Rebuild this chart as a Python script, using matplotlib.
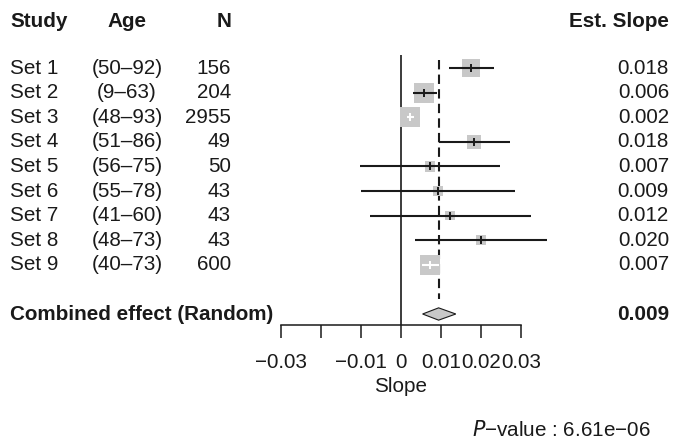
import numpy as np
import matplotlib
matplotlib.use("Agg")
import matplotlib.pyplot as plt

plt.rcParams['font.family'] = ['Liberation Sans', 'DejaVu Sans']

# study data
studies = ['Set 1', 'Set 2', 'Set 3', 'Set 4', 'Set 5', 'Set 6', 'Set 7', 'Set 8', 'Set 9']
ages = ['(50\u201392)', '(9\u201363)', '(48\u201393)', '(51\u201386)', '(56\u201375)',
        '(55\u201378)', '(41\u201360)', '(48\u201373)', '(40\u201373)']
n_obs = [156, 204, 2955, 49, 50, 43, 43, 43, 600]
est = [0.0176, 0.0058, 0.0023, 0.0183, 0.0073, 0.0093, 0.0123, 0.0200, 0.0073]
lower = [0.0120, 0.0029, 0.0014, 0.0096, -0.0103, -0.0100, -0.0078, 0.0034, 0.0052]
upper = [0.0233, 0.0089, 0.0033, 0.0273, 0.0248, 0.0286, 0.0324, 0.0366, 0.0096]

comb_label = 'Combined effect (Random)'
comb_est = 0.0094
comb_lower = 0.0054
comb_upper = 0.0137

xticks = [-0.03, -0.02, -0.01, 0, 0.01, 0.02, 0.03]
xticklabels = ['\u22120.03', '', '\u22120.01', '0', '0.01', '0.02', '0.03']
pvalue = '6.61e\u221206'

W, H = 673, 444
fig = plt.figure(figsize=(W / 100, H / 100), dpi=100)
ax = fig.add_axes([0, 0, 1, 1])

# map: x pixel = 401 + 4000*slope, y pixel = 43.4 + 24.6*row
ax.set_xlim(-401 / 4000, (W - 401) / 4000)
ax.set_ylim((H - 43.4) / 24.6, -43.4 / 24.6)
ax.patch.set_alpha(0)

txt = '#1a1a1a'
fs = 14.9
rows = np.arange(1, len(studies) + 1)
comb_row = len(studies) + 2
axis_row = comb_row + 0.45
head_row = -0.9

col_tr = ax.get_yaxis_transform()  # x in axes fraction, y in data


def colx(px):
    return px / W


# headers
ax.text(colx(10), head_row, 'Study', transform=col_tr, ha='left', va='center',
        fontsize=fs, fontweight='bold', color=txt)
ax.text(colx(127), head_row, 'Age', transform=col_tr, ha='center', va='center',
        fontsize=fs, fontweight='bold', color=txt)
ax.text(colx(231), head_row, 'N', transform=col_tr, ha='right', va='center',
        fontsize=fs, fontweight='bold', color=txt)
ax.text(colx(669), head_row, 'Est. Slope', transform=col_tr, ha='right', va='center',
        fontsize=fs, fontweight='bold', color=txt)

for r, s, a, n, e in zip(rows, studies, ages, n_obs, est):
    ax.text(colx(10), r, s, transform=col_tr, ha='left', va='center', fontsize=fs, color=txt)
    ax.text(colx(127), r, a, transform=col_tr, ha='center', va='center', fontsize=fs, color=txt)
    ax.text(colx(231), r, str(n), transform=col_tr, ha='right', va='center', fontsize=fs, color=txt)
    ax.text(colx(669), r, f'{e:.3f}', transform=col_tr, ha='right', va='center', fontsize=fs, color=txt)

ax.text(colx(10), comb_row, comb_label, transform=col_tr, ha='left', va='center',
        fontsize=fs, fontweight='bold', color=txt)
ax.text(colx(669), comb_row, f'{comb_est:.3f}', transform=col_tr, ha='right', va='center',
        fontsize=fs, fontweight='bold', color=txt)

# reference lines
ax.vlines(0, 0.47, axis_row, color=txt, lw=1.2)
ax.vlines(comb_est, 0.67, comb_row - 0.6, color=txt, lw=1.5, linestyles=(0, (4.5, 2.5)))

# boxes: area ~ precision, capped
est = np.array(est)
lower = np.array(lower)
upper = np.array(upper)
side_px = np.minimum(20, 1.92 * np.sqrt(1 / (upper - lower)))
ax.scatter(est, rows, marker='s', s=(side_px * 0.72) ** 2, color='#c8c8c8',
           linewidths=0, zorder=2)

inside = (upper - lower) * 4000 < side_px
for r, e, lo, hi, ins in zip(rows, est, lower, upper, inside):
    c = 'white' if ins else txt
    ax.plot([lo, hi], [r, r], color=c, lw=1.5, zorder=3, solid_capstyle='butt')
    ax.plot([e], [r], marker='|', ms=5.5, mew=1.4, color=c, zorder=4)

# diamond
ax.fill([comb_lower, comb_est, comb_upper, comb_est],
        [comb_row, comb_row - 0.25, comb_row, comb_row + 0.25],
        facecolor='#c8c8c8', edgecolor=txt, lw=0.8, zorder=3)

# x axis
for sp in ['top', 'left', 'right']:
    ax.spines[sp].set_visible(False)
ax.spines['bottom'].set_position(('data', axis_row))
ax.spines['bottom'].set_bounds(xticks[0], xticks[-1])
ax.spines['bottom'].set_linewidth(1.1)
ax.spines['bottom'].set_color(txt)
ax.set_yticks([])
ax.set_xticks(xticks)
ax.set_xticklabels(xticklabels)
ax.tick_params(axis='x', direction='out', length=9.4, width=1.1, color=txt,
               labelsize=fs, labelcolor=txt, pad=11)

ax.text(0, (386 - 43.4) / 24.6, 'Slope', ha='center', va='center', fontsize=fs, color=txt)
ax.text(colx(651), (430 - 43.4) / 24.6, '$P$\u2212value : ' + pvalue, transform=col_tr,
        ha='right', va='center', fontsize=fs, color=txt)

fig.savefig('out.png', dpi=100)
